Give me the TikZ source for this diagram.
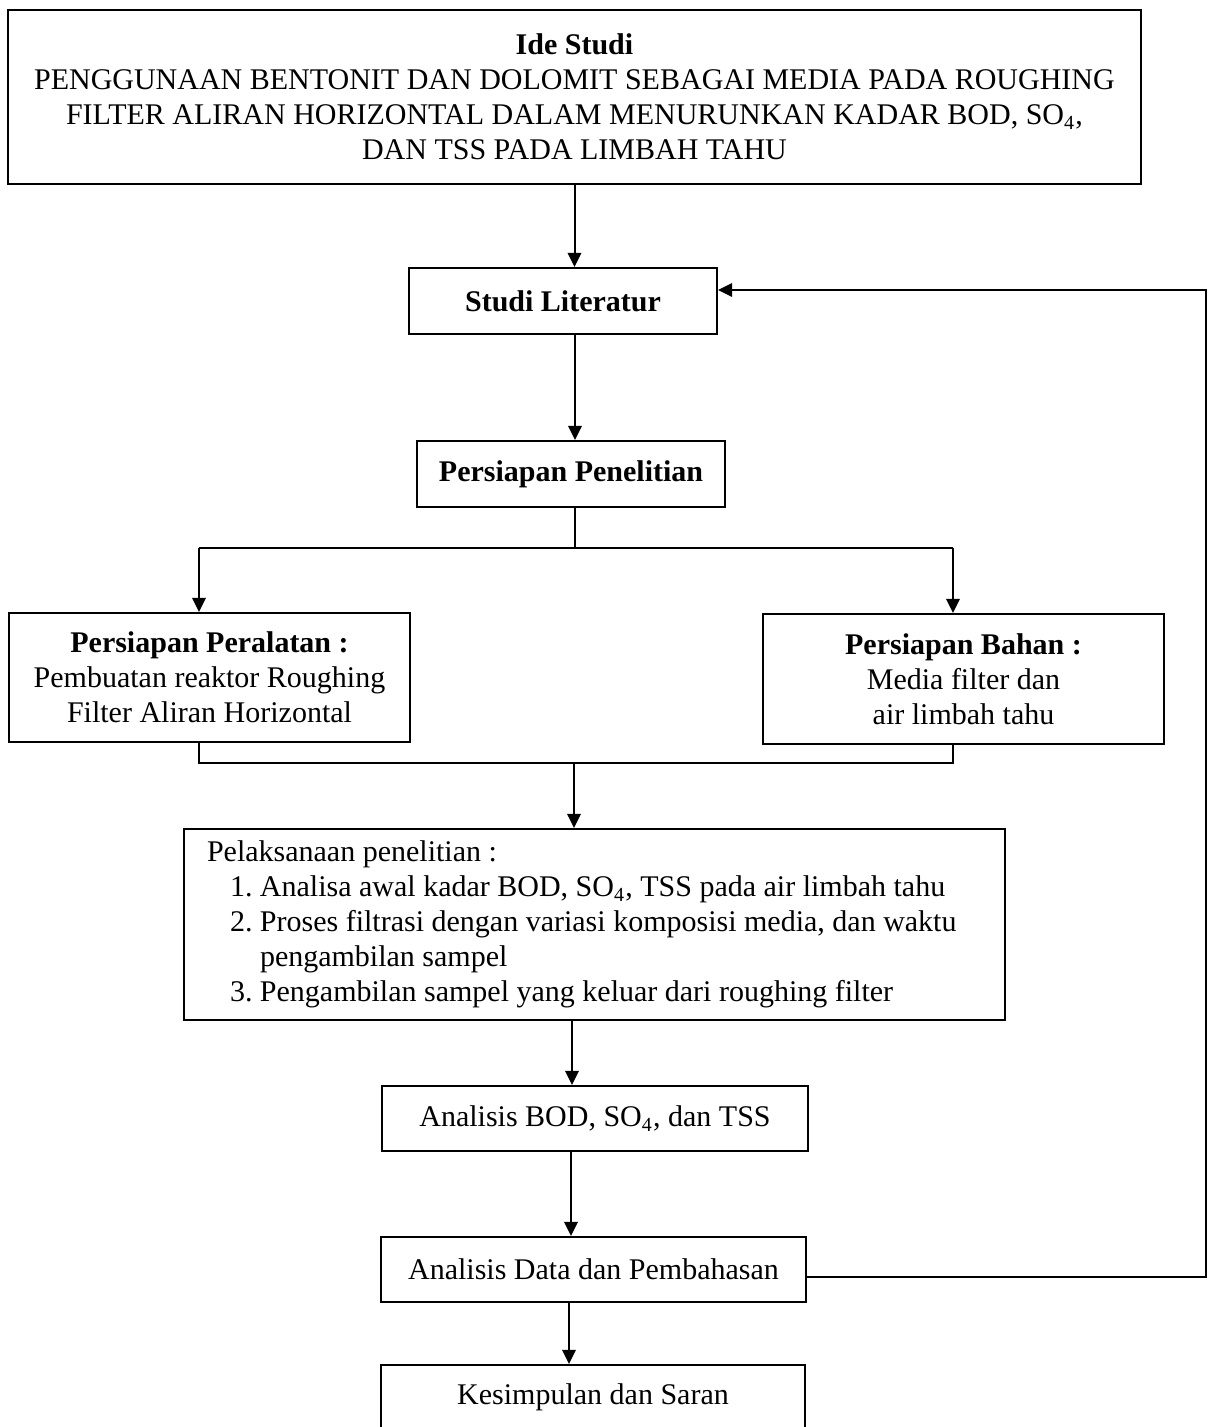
\documentclass[tikz,border=0pt]{standalone}
\usepackage{fontspec}
\setmainfont{Liberation Serif}
\usepackage{tikz}
\usetikzlibrary{arrows.meta}

\begin{document}
\begin{tikzpicture}[x=0.4pt,y=-0.4pt,
  kotak/.style={draw,line width=0.9pt,inner sep=0pt,align=center,
    font=\fontsize{12}{14}\selectfont},
  panah/.style={line width=0.8pt,-{Triangle[length=5.6pt,width=5.4pt]}},
  garis/.style={line width=0.8pt}]
\path[use as bounding box,clip] (0,0) rectangle (1210,1427);

% kotak-kotak
\node [kotak,minimum width=1133*0.4pt,minimum height=174*0.4pt] (ide) at (574.5,97)
  {\textbf{Ide Studi}\\
   PENGGUNAAN BENTONIT DAN DOLOMIT SEBAGAI MEDIA PADA ROUGHING\\
   FILTER ALIRAN HORIZONTAL DALAM MENURUNKAN KADAR BOD, SO\textsubscript{4},\\
   DAN TSS PADA LIMBAH TAHU};
\node [kotak,minimum width=308*0.4pt,minimum height=66*0.4pt] (studi) at (563,301) {\textbf{Studi Literatur}};
\node [kotak,minimum width=308*0.4pt,minimum height=66*0.4pt] (siap) at (571,474) {\textbf{Persiapan Penelitian}};
\node [kotak,minimum width=401*0.4pt,minimum height=129*0.4pt] (alat) at (209.5,677.5)
  {\textbf{Persiapan Peralatan :}\\ Pembuatan reaktor Roughing\\ Filter Aliran Horizontal};
\node [kotak,minimum width=401*0.4pt,minimum height=130*0.4pt] (bahan) at (963.5,679)
  {\textbf{Persiapan Bahan :}\\ Media filter dan\\ air limbah tahu};
\node [kotak,minimum height=191*0.4pt,inner xsep=9.2pt,text width=775*0.4pt,align=flush left] (laks) at (594.5,924.5)
  {Pelaksanaan penelitian :\\
   \hspace*{9.2pt}1.\ Analisa awal kadar BOD, SO\textsubscript{4}, TSS pada air limbah tahu\\
   \hspace*{9.2pt}2.\ Proses filtrasi dengan variasi komposisi media, dan waktu\\
   \hspace*{21.2pt}pengambilan sampel\\
   \hspace*{9.2pt}3.\ Pengambilan sampel yang keluar dari roughing filter};
\node [kotak,minimum width=426*0.4pt,minimum height=65*0.4pt] (bod) at (595,1118.5) {Analisis BOD, SO\textsubscript{4}, dan TSS};
\node [kotak,minimum width=425*0.4pt,minimum height=65*0.4pt] (data) at (593.5,1269.5) {Analisis Data dan Pembahasan};
\node [kotak,minimum width=424*0.4pt,minimum height=64*0.4pt] (simpul) at (593,1397) {Kesimpulan dan Saran};

% titik bantu
\coordinate (pL) at (199,548);
\coordinate (pM) at (575,548);
\coordinate (pR) at (953,548);
\coordinate (jL) at (199,763);
\coordinate (jM) at (574,763);
\coordinate (jR) at (953,763);
\coordinate (bk) at (1206,1277);

% panah
\draw [panah] (ide.south) -- (ide.south |- studi.north);
\draw [panah] (studi.south -| pM) -- (siap.north -| pM);
\draw [garis] (siap.south -| pM) -- (pM);
\draw [garis] (pL) -- (pR);
\draw [panah] (pL) -- (pL |- alat.north);
\draw [panah] (pR) -- (pR |- bahan.north);
\draw [garis] (alat.south -| jL) -- (jL) -- (jR) -- (bahan.south -| jR);
\draw [panah] (jM) -- (jM |- laks.north);
\draw [panah] (laks.south -| 572,0) -- (bod.north -| 572,0);
\draw [panah] (bod.south -| 571,0) -- (data.north -| 571,0);
\draw [panah] (data.south -| 569,0) -- (simpul.north -| 569,0);
\draw [panah] (data.east |- bk) -- (bk) -- (bk |- 0,290) -- (studi.east |- 0,290);
\end{tikzpicture}
\end{document}
